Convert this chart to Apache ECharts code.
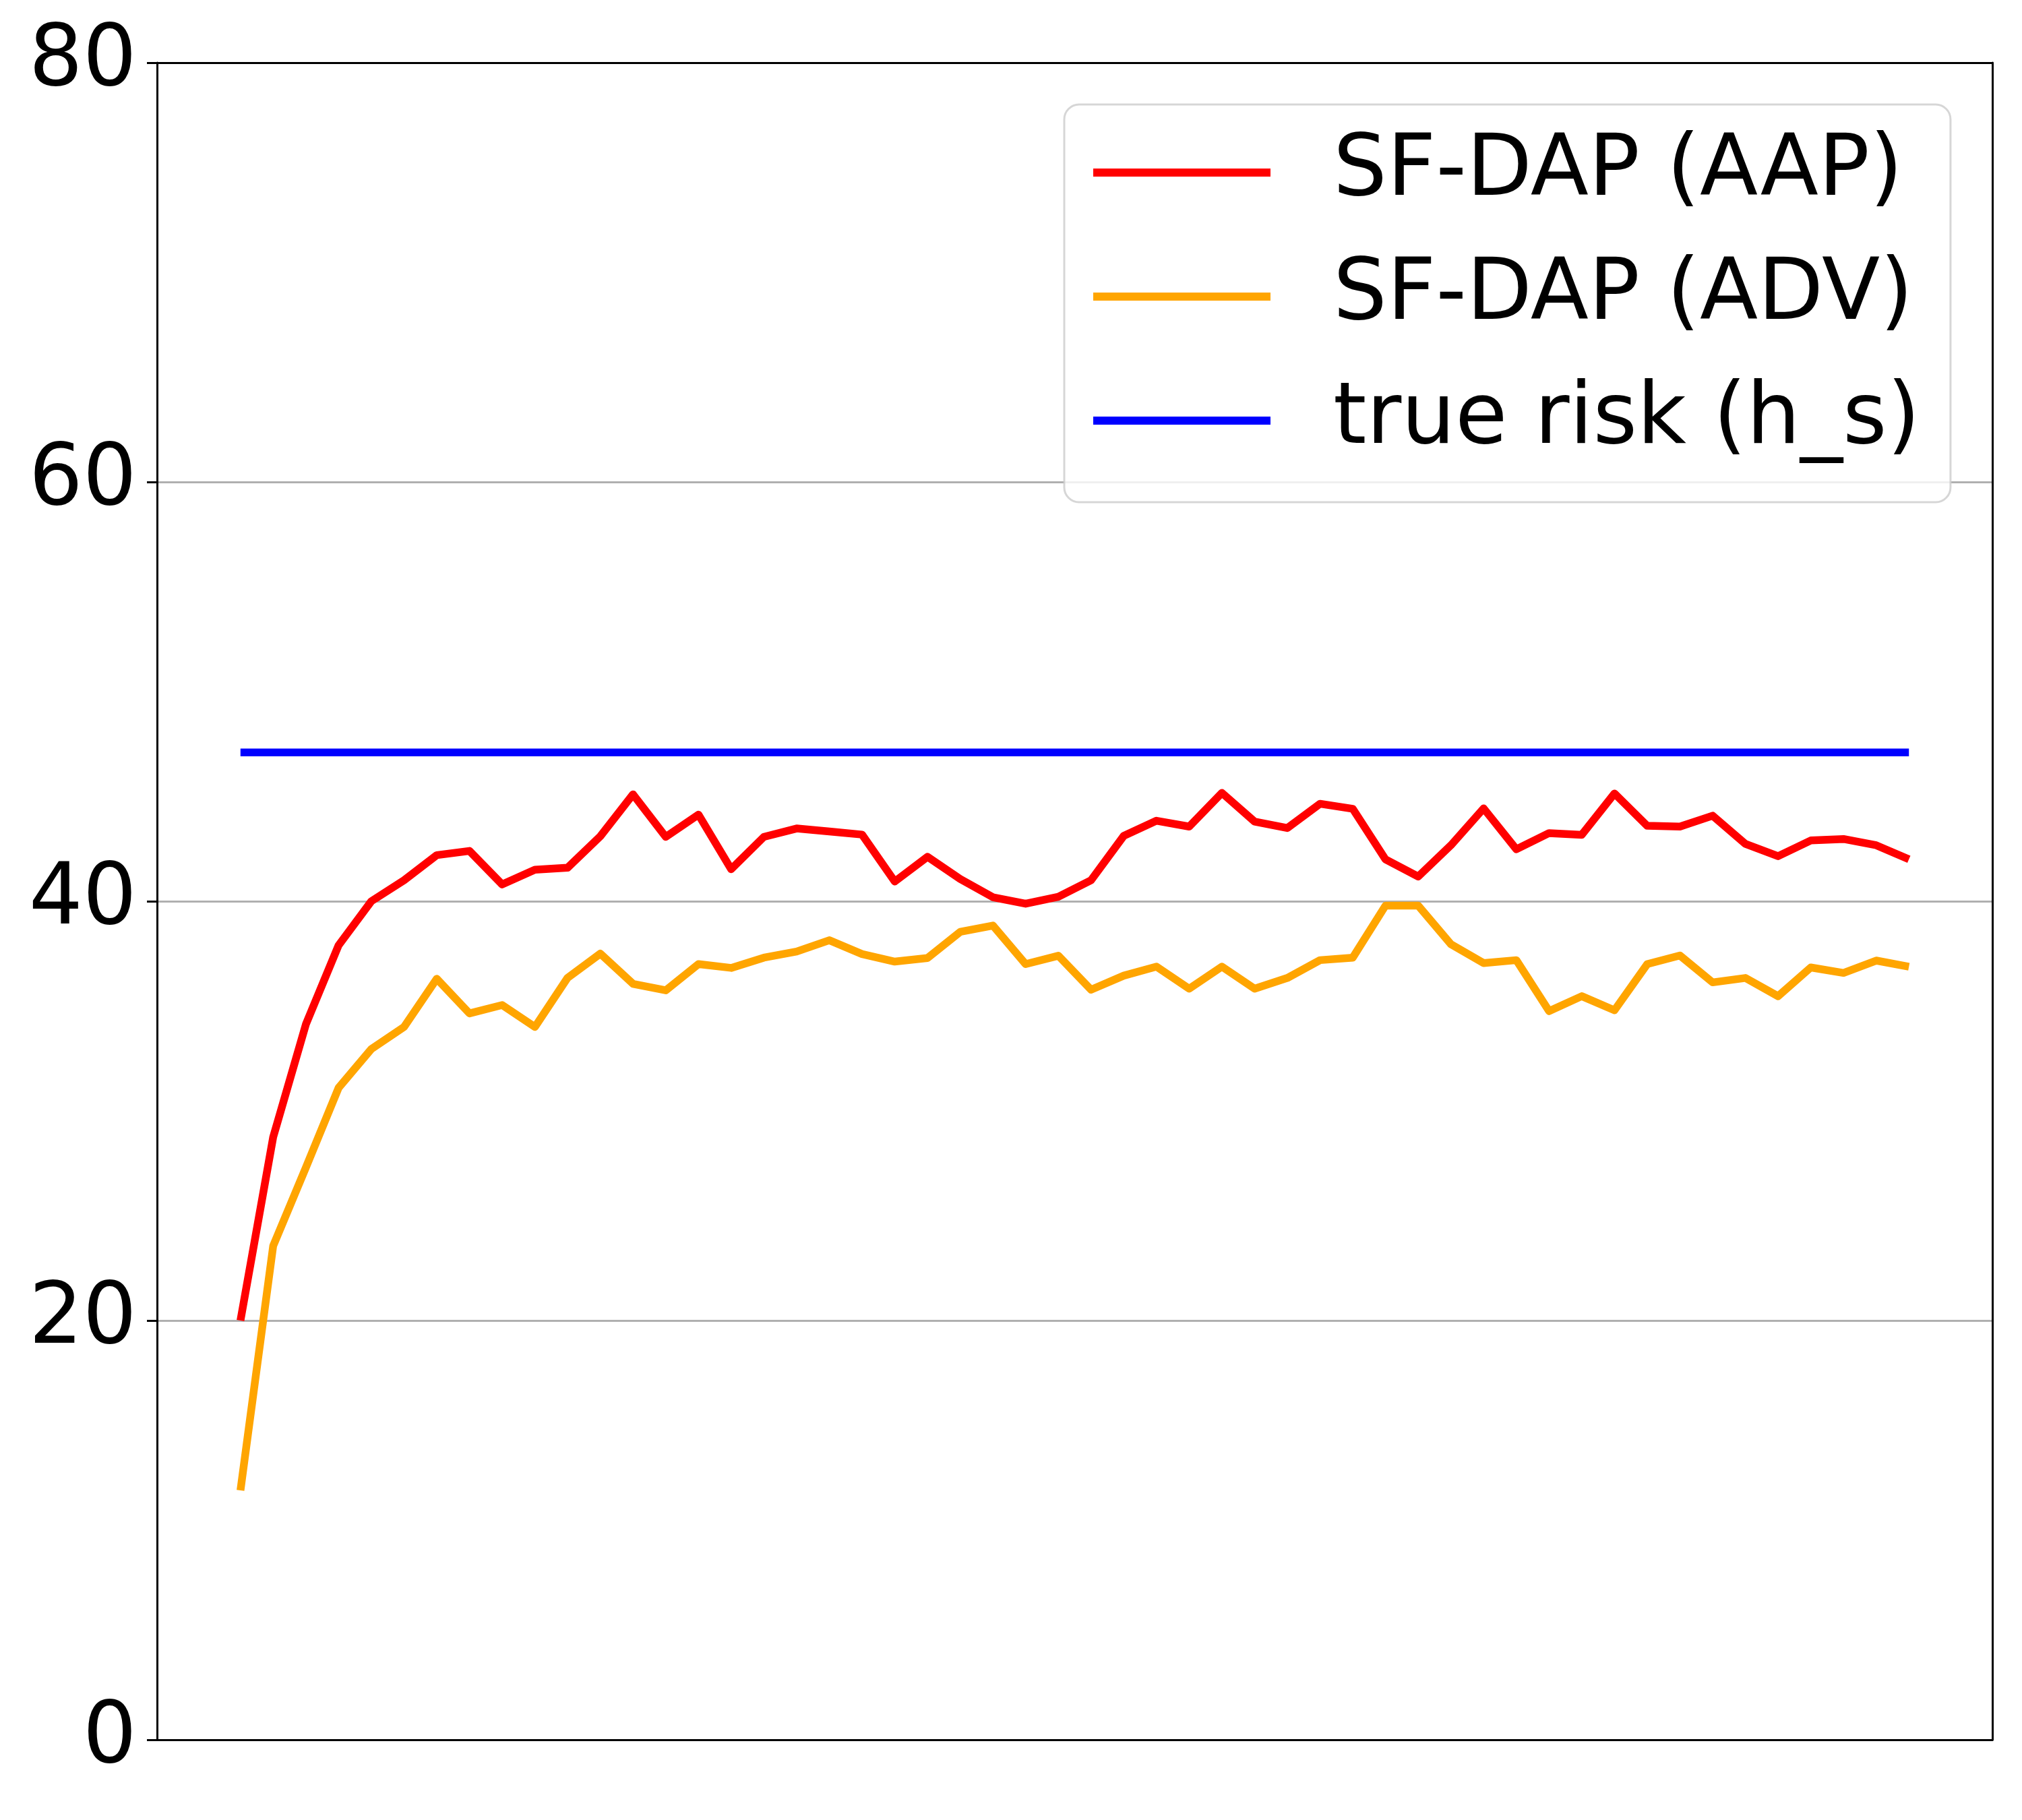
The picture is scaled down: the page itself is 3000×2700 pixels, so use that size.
<!DOCTYPE html>
<html>
<head>
<meta charset="utf-8">
<script src="https://cdn.jsdelivr.net/npm/echarts@6/dist/echarts.min.js"></script>
<style>
html,body{margin:0;padding:0;background:#fff;}
#chart{width:3000px;height:2700px;}
</style>
</head>
<body>
<div id="chart"></div>
<script>
// ---- data ----
const epochs = [0,1,2,3,4,5,6,7,8,9,10,11,12,13,14,15,16,17,18,19,20,21,22,23,24,25,
                26,27,28,29,30,31,32,33,34,35,36,37,38,39,40,41,42,43,44,45,46,47,48,49,50,51];
const sfdapAAP = [20.0, 28.75, 34.13, 37.9, 40.0, 41.0, 42.2, 42.4, 40.8, 41.5, 41.6, 43.1, 45.1, 43.07,
                  44.13, 41.53, 43.07, 43.47, 43.33, 43.18, 40.94, 42.12, 41.06, 40.19, 39.88, 40.21, 41.0, 43.12,
                  43.84, 43.56, 45.17, 43.8, 43.49, 44.65, 44.41, 42.0, 41.18, 42.67, 44.43, 42.48, 43.25, 43.17,
                  45.14, 43.6, 43.56, 44.08, 42.74, 42.15, 42.9, 42.97, 42.67, 42.0];
const sfdapADV = [11.9, 23.56, 27.3, 31.1, 32.95, 34.0, 36.3, 34.65, 35.05, 34.0, 36.35, 37.5, 36.06, 35.75,
                  37.0, 36.82, 37.31, 37.6, 38.14, 37.48, 37.12, 37.29, 38.54, 38.84, 37.0, 37.4, 35.78, 36.45,
                  36.88, 35.83, 36.88, 35.83, 36.34, 37.19, 37.31, 39.79, 39.79, 37.95, 37.05, 37.19, 34.76, 35.47,
                  34.8, 37.0, 37.41, 36.13, 36.34, 35.47, 36.84, 36.58, 37.17, 36.88];
const trueRiskHs = 47.1;
const yTicks = [0, 20, 40, 60, 80];
const seriesNames = ['SF-DAP (AAP)', 'SF-DAP (ADV)', 'true risk (h_s)'];

// ---- chart ----
const chart = echarts.init(document.getElementById('chart'), null, {renderer: 'canvas', devicePixelRatio: 1});
const FONT = 'DejaVu Sans';
const FS = 126;
const xMin = -2.55, xMax = 53.55;
const lineW = 11.5;

const pairs = (vals) => epochs.map((e, i) => [e, vals[i]]);

chart.setOption({
  animation: false,
  backgroundColor: '#ffffff',
  grid: {left: 233, top: 93, right: 44, bottom: 119, containLabel: false, show: false},
  xAxis: [
    {type: 'value', min: xMin, max: xMax, position: 'bottom',
     axisLine: {show: true, onZero: false, lineStyle: {color: '#000', width: 3}},
     axisTick: {show: false}, axisLabel: {show: false}, splitLine: {show: false}},
    {type: 'value', min: xMin, max: xMax, position: 'top',
     axisLine: {show: true, onZero: false, lineStyle: {color: '#000', width: 3}},
     axisTick: {show: false}, axisLabel: {show: false}, splitLine: {show: false}}
  ],
  yAxis: [
    {type: 'value', min: yTicks[0], max: yTicks[yTicks.length - 1], interval: 20, position: 'left',
     axisLine: {show: true, onZero: false, lineStyle: {color: '#000', width: 3}},
     axisTick: {show: true, inside: false, length: 15, lineStyle: {color: '#000', width: 3}},
     axisLabel: {show: true, margin: 30, fontSize: FS, fontFamily: FONT, color: '#000'},
     splitLine: {show: true, lineStyle: {color: '#b0b0b0', width: 3}}},
    {type: 'value', min: yTicks[0], max: yTicks[yTicks.length - 1], interval: 20, position: 'right',
     axisLine: {show: true, onZero: false, lineStyle: {color: '#000', width: 3}},
     axisTick: {show: false}, axisLabel: {show: false}, splitLine: {show: false}}
  ],
  legend: {
    show: true,
    orient: 'vertical',
    left: 1579, top: 155,
    icon: 'rect',
    itemWidth: 263, itemHeight: 12,
    itemGap: 34,
    padding: [26, 45, 46, 43],
    backgroundColor: 'rgba(255,255,255,0.8)',
    borderColor: 'rgba(204,204,204,0.8)',
    borderWidth: 3,
    borderRadius: 22,
    textStyle: {fontSize: FS, fontFamily: FONT, color: '#000', lineHeight: 150, padding: [0, 0, 0, 88]},
    data: seriesNames
  },
  series: [
    {name: seriesNames[0], type: 'line', data: pairs(sfdapAAP), showSymbol: false, symbol: 'none',
     lineStyle: {color: '#ff0000', width: lineW, cap: 'butt', join: 'round'}, itemStyle: {color: '#ff0000'}, z: 3},
    {name: seriesNames[1], type: 'line', data: pairs(sfdapADV), showSymbol: false, symbol: 'none',
     lineStyle: {color: '#ffa500', width: lineW, cap: 'butt', join: 'round'}, itemStyle: {color: '#ffa500'}, z: 4},
    {name: seriesNames[2], type: 'line', data: epochs.map(e => [e, trueRiskHs]), showSymbol: false, symbol: 'none',
     lineStyle: {color: '#0000ff', width: lineW, cap: 'butt', join: 'round'}, itemStyle: {color: '#0000ff'}, z: 5}
  ]
});
</script>
</body>
</html>
